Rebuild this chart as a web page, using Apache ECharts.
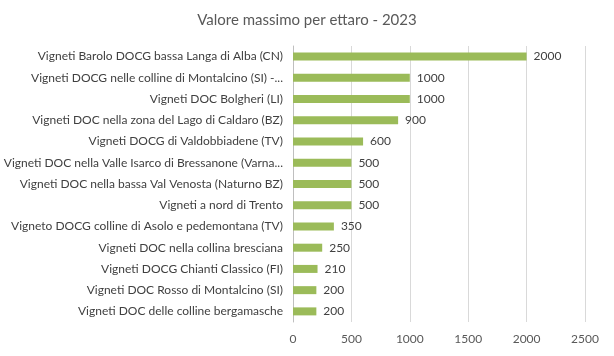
<!DOCTYPE html>
<html><head><meta charset="utf-8">
<script src="https://cdn.jsdelivr.net/npm/echarts@6/dist/echarts.min.js"></script>
<style>html,body{margin:0;padding:0;background:#fff}#c{width:614px;height:356px}</style>
</head><body><div id="c"></div>
<script>
const titleText = "Valore massimo per ettaro - 2023";
const categories = [
  "Vigneti Barolo DOCG bassa Langa di Alba (CN)",
  "Vigneti DOCG nelle colline di Montalcino (SI) -...",
  "Vigneti DOC Bolgheri (LI)",
  "Vigneti DOC nella zona del Lago di Caldaro (BZ)",
  "Vigneti DOCG di Valdobbiadene (TV)",
  "Vigneti DOC nella Valle Isarco di Bressanone (Varna...",
  "Vigneti DOC nella bassa Val Venosta (Naturno BZ)",
  "Vigneti a nord di Trento",
  "Vigneto DOCG colline di Asolo e pedemontana (TV)",
  "Vigneti DOC nella collina bresciana",
  "Vigneti DOCG Chianti Classico (FI)",
  "Vigneti DOC Rosso di Montalcino (SI)",
  "Vigneti DOC delle colline bergamasche"
];
const values = [2000, 1000, 1000, 900, 600, 500, 500, 500, 350, 250, 210, 200, 200];
const xTicks = [0, 500, 1000, 1500, 2000, 2500];

const font = "Lato";
const chart = echarts.init(document.getElementById('c'));
chart.setOption({
  animation: false,
  title: {
    text: titleText, left: 'center', top: 8,
    textStyle: {fontFamily: font, fontSize: 15, fontWeight: 'normal', color: '#595959'}
  },
  grid: {left: 293, right: 29, top: 46, bottom: 34, containLabel: false},
  xAxis: {
    type: 'value', min: xTicks[0], max: xTicks[xTicks.length-1], interval: 500,
    axisLine: {show: false}, axisTick: {show: false},
    splitLine: {lineStyle: {color: '#d9d9d9', width: 1}},
    axisLabel: {fontFamily: font, fontSize: 12, color: '#595959', margin: 11, formatter: v => String(v)}
  },
  yAxis: {
    type: 'category', data: categories, inverse: true,
    axisLine: {lineStyle: {color: '#bfbfbf'}}, axisTick: {show: false},
    axisLabel: {fontFamily: font, fontSize: 12, color: '#404040', margin: 10, width: 285, overflow: 'truncate'}
  },
  series: [{
    type: 'bar', data: values, barWidth: 8,
    itemStyle: {color: '#9bbb59'},
    label: {show: true, position: 'right', distance: 7, fontFamily: font, fontSize: 12, color: '#404040'}
  }]
});
</script></body></html>
